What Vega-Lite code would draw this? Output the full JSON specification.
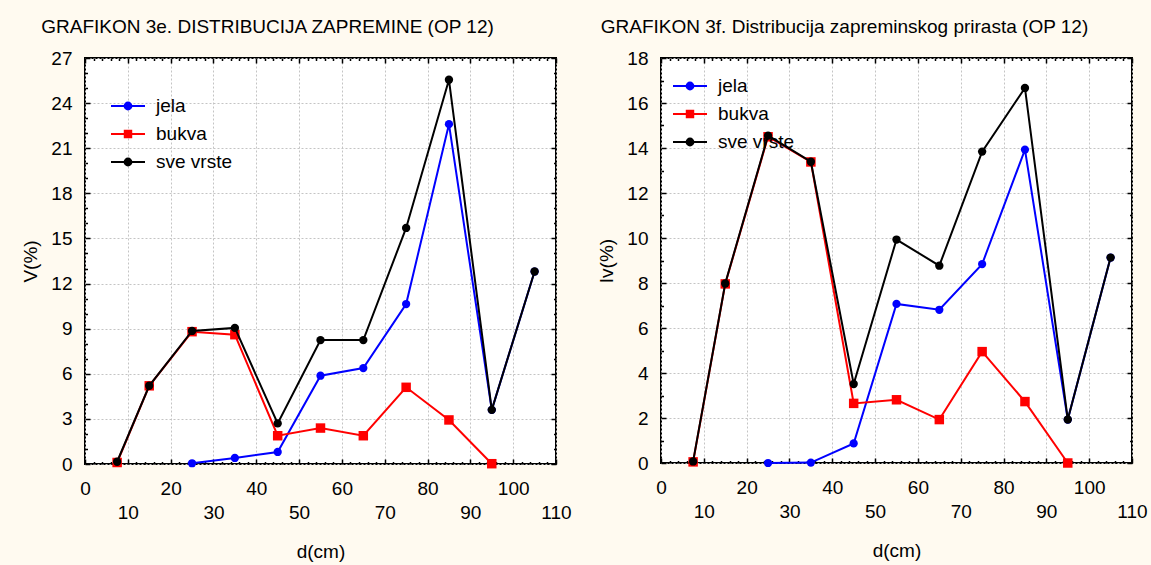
{
  "$schema": "https://vega.github.io/schema/vega-lite/v6.json",
  "background": "#FFFAF0",
  "padding": {"left": 20, "top": 17, "right": 5, "bottom": 5},
  "config": {
    "font": "Liberation Sans",
    "view": {"stroke": "black", "strokeWidth": 2, "fill": "white"},
    "axis": {
      "labelFontSize": 19, "titleFontSize": 19, "titleFontWeight": "normal",
      "labelColor": "black", "titleColor": "black", "labelFont": "Liberation Sans", "titleFont": "Liberation Sans",
      "gridColor": "#C4C4C4", "gridDash": [2, 2], "gridWidth": 1,
      "domain": false, "tickColor": "black", "tickSize": -5, "tickWidth": 1.5
    },
    "title": {"fontSize": 19, "fontWeight": "normal", "font": "Liberation Sans", "color": "black"},
    "concat": {"spacing": 23}
  },
  "datasets": {
    "v": [
      {"d": 25, "s": "jela", "val": 0.05}, {"d": 35, "s": "jela", "val": 0.4}, {"d": 45, "s": "jela", "val": 0.8},
      {"d": 55, "s": "jela", "val": 5.87}, {"d": 65, "s": "jela", "val": 6.38}, {"d": 75, "s": "jela", "val": 10.64},
      {"d": 85, "s": "jela", "val": 22.6}, {"d": 95, "s": "jela", "val": 3.6}, {"d": 105, "s": "jela", "val": 12.8},
      {"d": 7.5, "s": "bukva", "val": 0.1}, {"d": 15, "s": "bukva", "val": 5.2}, {"d": 25, "s": "bukva", "val": 8.8},
      {"d": 35, "s": "bukva", "val": 8.6}, {"d": 45, "s": "bukva", "val": 1.88}, {"d": 55, "s": "bukva", "val": 2.39},
      {"d": 65, "s": "bukva", "val": 1.88}, {"d": 75, "s": "bukva", "val": 5.1}, {"d": 85, "s": "bukva", "val": 2.93},
      {"d": 95, "s": "bukva", "val": 0.02},
      {"d": 7.5, "s": "sve vrste", "val": 0.15}, {"d": 15, "s": "sve vrste", "val": 5.2}, {"d": 25, "s": "sve vrste", "val": 8.85},
      {"d": 35, "s": "sve vrste", "val": 9.05}, {"d": 45, "s": "sve vrste", "val": 2.7}, {"d": 55, "s": "sve vrste", "val": 8.24},
      {"d": 65, "s": "sve vrste", "val": 8.24}, {"d": 75, "s": "sve vrste", "val": 15.7}, {"d": 85, "s": "sve vrste", "val": 25.55},
      {"d": 95, "s": "sve vrste", "val": 3.6}, {"d": 105, "s": "sve vrste", "val": 12.8}
    ],
    "iv": [
      {"d": 25, "s": "jela", "val": 0.0}, {"d": 35, "s": "jela", "val": 0.02}, {"d": 45, "s": "jela", "val": 0.87},
      {"d": 55, "s": "jela", "val": 7.07}, {"d": 65, "s": "jela", "val": 6.81}, {"d": 75, "s": "jela", "val": 8.84},
      {"d": 85, "s": "jela", "val": 13.93}, {"d": 95, "s": "jela", "val": 1.93}, {"d": 105, "s": "jela", "val": 9.13},
      {"d": 7.5, "s": "bukva", "val": 0.05}, {"d": 15, "s": "bukva", "val": 7.96}, {"d": 25, "s": "bukva", "val": 14.5},
      {"d": 35, "s": "bukva", "val": 13.38}, {"d": 45, "s": "bukva", "val": 2.65}, {"d": 55, "s": "bukva", "val": 2.81},
      {"d": 65, "s": "bukva", "val": 1.93}, {"d": 75, "s": "bukva", "val": 4.95}, {"d": 85, "s": "bukva", "val": 2.73},
      {"d": 95, "s": "bukva", "val": 0.0},
      {"d": 7.5, "s": "sve vrste", "val": 0.07}, {"d": 15, "s": "sve vrste", "val": 7.98}, {"d": 25, "s": "sve vrste", "val": 14.55},
      {"d": 35, "s": "sve vrste", "val": 13.39}, {"d": 45, "s": "sve vrste", "val": 3.51}, {"d": 55, "s": "sve vrste", "val": 9.93},
      {"d": 65, "s": "sve vrste", "val": 8.77}, {"d": 75, "s": "sve vrste", "val": 13.84}, {"d": 85, "s": "sve vrste", "val": 16.67},
      {"d": 95, "s": "sve vrste", "val": 1.93}, {"d": 105, "s": "sve vrste", "val": 9.13}
    ]
  },
  "hconcat": [
    {
      "width": 471, "height": 406,
      "title": {"text": "GRAFIKON 3e. DISTRIBUCIJA ZAPREMINE (OP 12)", "dx": -53, "offset": 12},
      "data": {"name": "v"},
      "layer": [
        {
          "encoding": {
            "x": {"field": "d", "type": "quantitative", "scale": {"domain": [0, 110], "nice": false},
              "axis": {"values": [0,2,4,6,8,10,12,14,16,18,20,22,24,26,28,30,32,34,36,38,40,42,44,46,48,50,52,54,56,58,60,62,64,66,68,70,72,74,76,78,80,82,84,86,88,90,92,94,96,98,100,102,104,106,108,110],
                "title": "d(cm)", "labelAngle": 0, "labelFlush": false, "labelOverlap": false,
                "labelExpr": "datum.value % 10 == 0 ? datum.label : ''",
                "gridOpacity": {"condition": {"test": "datum.value % 10 == 0", "value": 1}, "value": 0},
                "tickSize": {"condition": {"test": "datum.value % 10 == 0", "value": -5}, "value": -2.5},
                "labelPadding": {"condition": {"test": "datum.value % 20 == 10", "value": 44}, "value": 20}, "titlePadding": 20}},
            "y": {"field": "val", "type": "quantitative", "scale": {"domain": [0, 27], "nice": false},
              "axis": {"values": [0,1,2,3,4,5,6,7,8,9,10,11,12,13,14,15,16,17,18,19,20,21,22,23,24,25,26,27],
                "title": "V(%)", "labelFlush": false, "labelOverlap": false,
                "labelExpr": "datum.value % 3 == 0 ? datum.label : ''",
                "gridOpacity": {"condition": {"test": "datum.value % 3 == 0", "value": 1}, "value": 0},
                "tickSize": {"condition": {"test": "datum.value % 3 == 0", "value": -5}, "value": -2.5},
                "labelPadding": 18, "titlePadding": 10}}
          },
          "layer": [
            {"transform": [{"filter": "datum.s == 'jela'"}], "mark": {"type": "line", "color": "#0000FF", "strokeWidth": 2, "point": {"shape": "circle", "size": 68, "filled": true, "color": "#0000FF"}}},
            {"transform": [{"filter": "datum.s == 'bukva'"}], "mark": {"type": "line", "color": "#FF0000", "strokeWidth": 2, "point": {"shape": "square", "size": 90, "filled": true, "color": "#FF0000"}}},
            {"transform": [{"filter": "datum.s == 'sve vrste'"}], "mark": {"type": "line", "color": "#000000", "strokeWidth": 2, "point": {"shape": "circle", "size": 70, "filled": true, "color": "#000000"}}}
          ]
        },
        {
          "mark": {"type": "point", "filled": true, "opacity": 0},
          "encoding": {
            "x": {"field": "d", "type": "quantitative",
              "axis": {"orient": "top", "values": [0,2,4,6,8,10,12,14,16,18,20,22,24,26,28,30,32,34,36,38,40,42,44,46,48,50,52,54,56,58,60,62,64,66,68,70,72,74,76,78,80,82,84,86,88,90,92,94,96,98,100,102,104,106,108,110],
                "labels": false, "title": null, "grid": false,
                "tickSize": {"condition": {"test": "datum.value % 10 == 0", "value": -5}, "value": -2.5}}},
            "y": {"field": "val", "type": "quantitative",
              "axis": {"orient": "right", "values": [0,1,2,3,4,5,6,7,8,9,10,11,12,13,14,15,16,17,18,19,20,21,22,23,24,25,26,27],
                "labels": false, "title": null, "grid": false,
                "tickSize": {"condition": {"test": "datum.value % 3 == 0", "value": -5}, "value": -2.5}}},
            "fill": {"field": "s", "type": "nominal", "scale": {"domain": ["jela", "bukva", "sve vrste"], "range": ["#0000FF", "#FF0000", "#000000"]},
              "legend": {"orient": "none", "legendX": 25, "legendY": 30, "title": null, "labelFontSize": 19, "labelColor": "black", "symbolSize": 1156, "symbolStrokeWidth": 2, "symbolOpacity": 1, "labelOffset": 10, "rowPadding": -4.5, "padding": 0}},
            "stroke": {"field": "s", "type": "nominal", "scale": {"domain": ["jela", "bukva", "sve vrste"], "range": ["#0000FF", "#FF0000", "#000000"]},
              "legend": {"orient": "none", "legendX": 25, "legendY": 30, "title": null, "labelFontSize": 19, "labelColor": "black", "symbolSize": 1156, "symbolStrokeWidth": 2, "symbolOpacity": 1, "labelOffset": 10, "rowPadding": -4.5, "padding": 0}},
            "shape": {"field": "s", "type": "nominal", "scale": {"domain": ["jela", "bukva", "sve vrste"], "range": ["M-1,0H1M-0.2,0A0.2,0.2,0,1,1,0.2,0A0.2,0.2,0,1,1,-0.2,0Z", "M-1,0H1M-0.19,-0.19H0.19V0.19H-0.19Z", "M-1,0H1M-0.2,0A0.2,0.2,0,1,1,0.2,0A0.2,0.2,0,1,1,-0.2,0Z"]},
              "legend": {"orient": "none", "legendX": 25, "legendY": 30, "title": null, "labelFontSize": 19, "labelColor": "black", "symbolSize": 1156, "symbolStrokeWidth": 2, "symbolOpacity": 1, "labelOffset": 10, "rowPadding": -4.5, "padding": 0}}
          }
        }
      ],
      "resolve": {"axis": {"x": "independent", "y": "independent"}}
    },
    {
      "width": 471, "height": 405,
      "title": {"text": "GRAFIKON 3f. Distribucija zapreminskog prirasta (OP 12)", "dx": -52, "offset": 12},
      "data": {"name": "iv"},
      "layer": [
        {
          "encoding": {
            "x": {"field": "d", "type": "quantitative", "scale": {"domain": [0, 110], "nice": false},
              "axis": {"values": [0,2,4,6,8,10,12,14,16,18,20,22,24,26,28,30,32,34,36,38,40,42,44,46,48,50,52,54,56,58,60,62,64,66,68,70,72,74,76,78,80,82,84,86,88,90,92,94,96,98,100,102,104,106,108,110],
                "title": "d(cm)", "labelAngle": 0, "labelFlush": false, "labelOverlap": false,
                "labelExpr": "datum.value % 10 == 0 ? datum.label : ''",
                "gridOpacity": {"condition": {"test": "datum.value % 10 == 0", "value": 1}, "value": 0},
                "tickSize": {"condition": {"test": "datum.value % 10 == 0", "value": -5}, "value": -2.5},
                "labelPadding": {"condition": {"test": "datum.value % 20 == 10", "value": 44}, "value": 20}, "titlePadding": 20}},
            "y": {"field": "val", "type": "quantitative", "scale": {"domain": [0, 18], "nice": false},
              "axis": {"values": [0,1,2,3,4,5,6,7,8,9,10,11,12,13,14,15,16,17,18],
                "title": "Iv(%)", "labelFlush": false, "labelOverlap": false,
                "labelExpr": "datum.value % 2 == 0 ? datum.label : ''",
                "gridOpacity": {"condition": {"test": "datum.value % 2 == 0", "value": 1}, "value": 0},
                "tickSize": {"condition": {"test": "datum.value % 2 == 0", "value": -5}, "value": -2.5},
                "labelPadding": 18, "titlePadding": 10}}
          },
          "layer": [
            {"transform": [{"filter": "datum.s == 'jela'"}], "mark": {"type": "line", "color": "#0000FF", "strokeWidth": 2, "point": {"shape": "circle", "size": 68, "filled": true, "color": "#0000FF"}}},
            {"transform": [{"filter": "datum.s == 'bukva'"}], "mark": {"type": "line", "color": "#FF0000", "strokeWidth": 2, "point": {"shape": "square", "size": 90, "filled": true, "color": "#FF0000"}}},
            {"transform": [{"filter": "datum.s == 'sve vrste'"}], "mark": {"type": "line", "color": "#000000", "strokeWidth": 2, "point": {"shape": "circle", "size": 70, "filled": true, "color": "#000000"}}}
          ]
        },
        {
          "mark": {"type": "point", "filled": true, "opacity": 0},
          "encoding": {
            "x": {"field": "d", "type": "quantitative",
              "axis": {"orient": "top", "values": [0,2,4,6,8,10,12,14,16,18,20,22,24,26,28,30,32,34,36,38,40,42,44,46,48,50,52,54,56,58,60,62,64,66,68,70,72,74,76,78,80,82,84,86,88,90,92,94,96,98,100,102,104,106,108,110],
                "labels": false, "title": null, "grid": false,
                "tickSize": {"condition": {"test": "datum.value % 10 == 0", "value": -5}, "value": -2.5}}},
            "y": {"field": "val", "type": "quantitative",
              "axis": {"orient": "right", "values": [0,1,2,3,4,5,6,7,8,9,10,11,12,13,14,15,16,17,18],
                "labels": false, "title": null, "grid": false,
                "tickSize": {"condition": {"test": "datum.value % 2 == 0", "value": -5}, "value": -2.5}}},
            "fill": {"field": "s", "type": "nominal", "scale": {"domain": ["jela", "bukva", "sve vrste"], "range": ["#0000FF", "#FF0000", "#000000"]},
              "legend": {"orient": "none", "legendX": 11, "legendY": 10, "title": null, "labelFontSize": 19, "labelColor": "black", "symbolSize": 1156, "symbolStrokeWidth": 2, "symbolOpacity": 1, "labelOffset": 10, "rowPadding": -4.5, "padding": 0}},
            "stroke": {"field": "s", "type": "nominal", "scale": {"domain": ["jela", "bukva", "sve vrste"], "range": ["#0000FF", "#FF0000", "#000000"]},
              "legend": {"orient": "none", "legendX": 11, "legendY": 10, "title": null, "labelFontSize": 19, "labelColor": "black", "symbolSize": 1156, "symbolStrokeWidth": 2, "symbolOpacity": 1, "labelOffset": 10, "rowPadding": -4.5, "padding": 0}},
            "shape": {"field": "s", "type": "nominal", "scale": {"domain": ["jela", "bukva", "sve vrste"], "range": ["M-1,0H1M-0.2,0A0.2,0.2,0,1,1,0.2,0A0.2,0.2,0,1,1,-0.2,0Z", "M-1,0H1M-0.19,-0.19H0.19V0.19H-0.19Z", "M-1,0H1M-0.2,0A0.2,0.2,0,1,1,0.2,0A0.2,0.2,0,1,1,-0.2,0Z"]},
              "legend": {"orient": "none", "legendX": 11, "legendY": 10, "title": null, "labelFontSize": 19, "labelColor": "black", "symbolSize": 1156, "symbolStrokeWidth": 2, "symbolOpacity": 1, "labelOffset": 10, "rowPadding": -4.5, "padding": 0}}
          }
        }
      ],
      "resolve": {"axis": {"x": "independent", "y": "independent"}}
    }
  ],
  "resolve": {
    "scale": {"fill": "independent", "stroke": "independent", "shape": "independent"},
    "legend": {"fill": "independent", "stroke": "independent", "shape": "independent"}
  }
}
